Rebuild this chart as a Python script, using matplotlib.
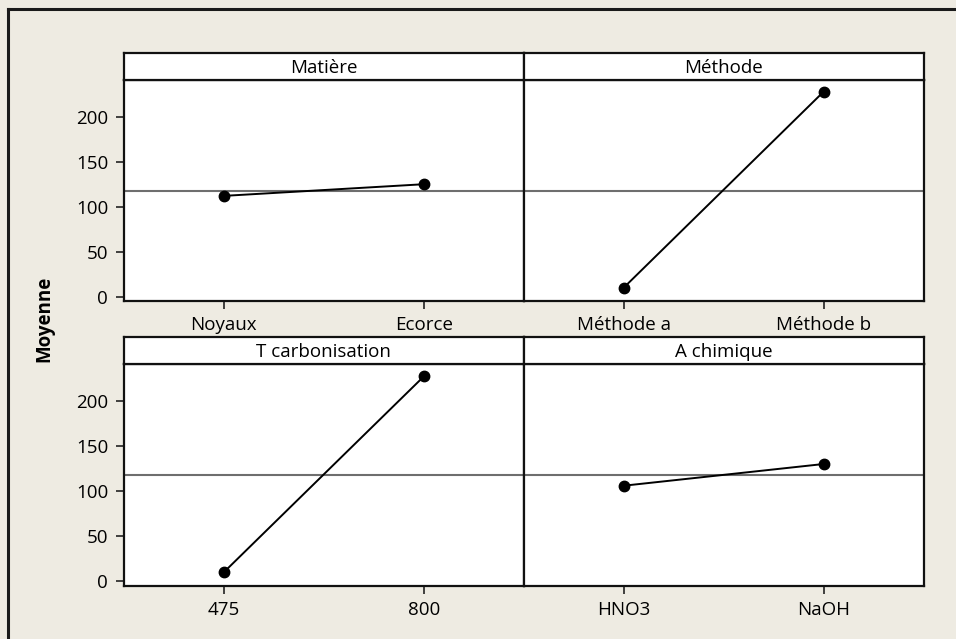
import matplotlib
matplotlib.use("Agg")
import matplotlib.pyplot as plt
from matplotlib.lines import Line2D

# Data
factors = ["Matière", "Méthode", "T carbonisation", "A chimique"]
levels = [["Noyaux", "Ecorce"], ["Méthode a", "Méthode b"], ["475", "800"], ["HNO3", "NaOH"]]
means = [[112, 125], [10, 228], [10, 227], [106, 130]]
grand_mean = 118
yticks = [0, 50, 100, 150, 200]
ylabel = "Moyenne"

plt.rcParams['font.family'] = ['Open Sans', 'DejaVu Sans']
FS = 13.5
W, H = 956, 639
bg = "#EEEBE2"

fig = plt.figure(figsize=(W / 100, H / 100), dpi=100, facecolor=bg)

# outer frame (left and top edges visible)
fig.add_artist(Line2D([8 / W, 8 / W], [-0.1, 1 - 8.5 / H], transform=fig.transFigure,
                      color="#1a1a1a", lw=2.2))
fig.add_artist(Line2D([8 / W, 1.1], [1 - 8.5 / H, 1 - 8.5 / H], transform=fig.transFigure,
                      color="#1a1a1a", lw=2.2))

col_x = [(123.5, 524), (524, 923.5)]
row_y = [(53.3, 80, 301), (337.3, 363.7, 586)]  # strip top, plot top, plot bottom

for i, (fac, lv, mv) in enumerate(zip(factors, levels, means)):
    r, c = divmod(i, 2)
    x0, x1 = col_x[c]
    st, pt, pb = row_y[r]
    ax = fig.add_axes([x0 / W, 1 - pb / H, (x1 - x0) / W, (pb - pt) / H])
    sax = fig.add_axes([x0 / W, 1 - pt / H, (x1 - x0) / W, (pt - st) / H])
    xs = list(range(1, len(lv) + 1))
    ax.axhline(grand_mean, color="#6e6e6e", lw=1.5, zorder=1)
    ax.plot(xs, mv, color="black", lw=1.4, marker="o", ms=7.5, zorder=3)
    ax.set_xlim(0.5, 2.5)
    ax.set_ylim(-5, 241)
    ax.set_xticks(xs)
    ax.set_xticklabels(lv, fontsize=FS)
    ax.set_yticks(yticks)
    if c == 0:
        ax.set_yticklabels([str(v) for v in yticks], fontsize=FS)
        ax.tick_params(axis="y", length=6, width=1.2, pad=5, color="#222222")
    else:
        ax.tick_params(axis="y", left=False, labelleft=False)
    ax.tick_params(axis="x", length=6, width=1.2, pad=5, color="#222222")
    ax.set_facecolor("white")
    for s in ax.spines.values():
        s.set_linewidth(1.6)
        s.set_color("#111111")
    # strip
    sax.set_facecolor("white")
    sax.set_xticks([])
    sax.set_yticks([])
    for s in sax.spines.values():
        s.set_linewidth(1.6)
        s.set_color("#111111")
    sax.text(0.5, 0.45, fac, ha="center", va="center", fontsize=FS, transform=sax.transAxes)

fig.text(44 / W, 1 - 319 / H, ylabel, rotation=90, ha="center", va="center",
         fontsize=FS, fontweight="bold")

fig.savefig("out.png", dpi=100, facecolor=bg)
